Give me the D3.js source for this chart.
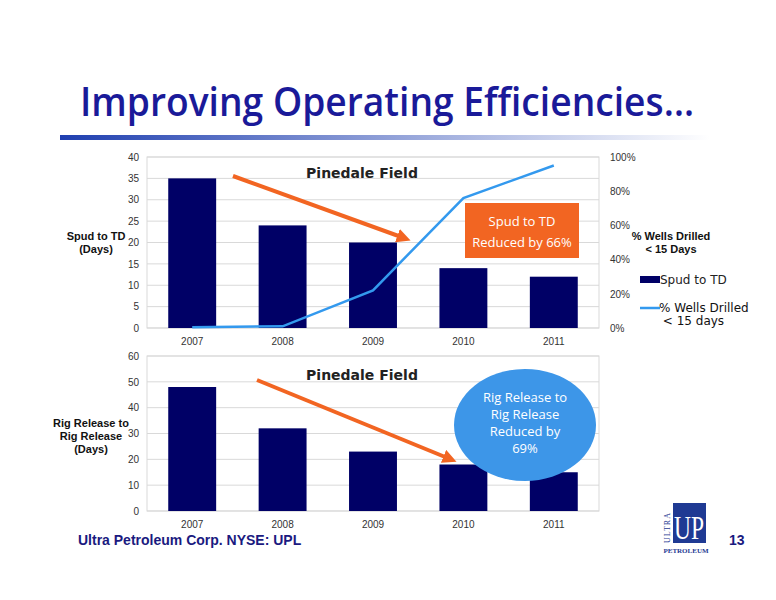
<!DOCTYPE html><html><head><meta charset="utf-8"><script src="https://cdn.jsdelivr.net/npm/d3@7"></script>
<style>body{margin:0;background:#fff}svg{font-family:Verdana,"DejaVu Sans",sans-serif}</style></head><body>
<svg id="c" width="776" height="600"></svg>
<script>
const years=["2007","2008","2009","2010","2011"];
const spudDays=[35,24,20,14,12];
const pctUnder15=[0.005,0.01,0.22,0.76,0.95];
const rigDays=[48,32,23,18,15];
const topTicks=[0,5,10,15,20,25,30,35,40];
const pctTicks=[0,0.2,0.4,0.6,0.8,1];
const botTicks=[0,10,20,30,40,50,60];
const navy="#000066",grid="#d9d9d9",lineBlue="#3399ee",orange="#f26522";
const svg=d3.select("#c");
const defs=svg.append("defs");
const g=defs.append("linearGradient").attr("id","gr");
g.append("stop").attr("offset","0").attr("stop-color","#1f3fb0");
g.append("stop").attr("offset","1").attr("stop-color","#fff");
svg.append("text").attr("x",80).attr("y",116).attr("font-family","'Open Sans',sans-serif").attr("font-weight","600").attr("font-size",40).attr("fill","#1a1a99").attr("textLength",614).attr("lengthAdjust","spacingAndGlyphs").text("Improving Operating Efficiencies…");
svg.append("rect").attr("x",60).attr("y",135).attr("width",650).attr("height",5).attr("fill","url(#gr)");
const x=d3.scaleBand().domain(years).range([147,599]).paddingInner(0.47).paddingOuter(0.235);
function chart(y0,y1,max,ticks,vals,title,titleY){
 const y=d3.scaleLinear().domain([0,max]).range([y1,y0]);
 svg.append("g").selectAll("line").data(ticks).join("line").attr("x1",147).attr("x2",599).attr("y1",d=>y(d)).attr("y2",d=>y(d)).attr("stroke",grid);
 svg.append("rect").attr("x",147).attr("y",y0).attr("width",452).attr("height",y1-y0).attr("fill","none").attr("stroke",grid);
 svg.append("g").selectAll("rect").data(vals).join("rect").attr("x",(d,i)=>x(years[i])).attr("width",x.bandwidth()).attr("y",d=>y(d)).attr("height",d=>y1-y(d)).attr("fill",navy);
 const ax=svg.append("g").attr("transform","translate(147,0)").call(d3.axisLeft(y).tickValues(ticks).tickSize(0).tickPadding(8));
 ax.select(".domain").remove();ax.selectAll("text").attr("font-size",10).attr("fill","#333");
 const bx=svg.append("g").attr("transform",`translate(0,${y1})`).call(d3.axisBottom(x).tickSize(0).tickPadding(10));
 bx.select(".domain").remove();bx.selectAll("text").attr("font-size",10).attr("fill","#333");
 svg.append("text").attr("x",362).attr("y",titleY).attr("text-anchor","middle").attr("font-size",14).attr("font-weight","bold").attr("fill","#222").text(title);
 return y;
}
chart(157,328,40,topTicks,spudDays,"Pinedale Field",178);
const yp=d3.scaleLinear().domain([0,1]).range([328,157]);
const ra=svg.append("g").attr("transform","translate(606,0)").call(d3.axisRight(yp).tickValues(pctTicks).tickFormat(d3.format(".0%")).tickSize(0).tickPadding(4));
ra.select(".domain").remove();ra.selectAll("text").attr("font-size",10).attr("fill","#333");
svg.append("path").datum(pctUnder15).attr("fill","none").attr("stroke",lineBlue).attr("stroke-width",2.5)
 .attr("d",d3.line().x((d,i)=>x(years[i])+x.bandwidth()/2).y(d=>yp(d)));
chart(356,511,60,botTicks,rigDays,"Pinedale Field",380);
function lbl(lines,xx,yy,anchor,fs,bold,fam){const t=svg.append("text").attr("font-size",fs).attr("font-weight",bold?"bold":null).attr("text-anchor",anchor).attr("fill","#111");
 if(fam)t.attr("font-family",fam);
 lines.forEach((l,i)=>t.append("tspan").attr("x",xx).attr("y",yy+i*13).text(l));}
const narrow="'Liberation Sans Narrow','Liberation Sans',Arial,sans-serif";
lbl(["Spud to TD","(Days)"],96,240,"middle",11,true,narrow);
lbl(["Rig Release to","Rig Release","(Days)"],91,427,"middle",11,true,narrow);
lbl(["% Wells Drilled","< 15 Days"],671,240,"middle",11,true,narrow);
svg.append("rect").attr("x",640).attr("y",276).attr("width",20).attr("height",7).attr("fill",navy);
svg.append("text").attr("x",660).attr("y",284).attr("font-size",12).attr("fill","#222").text("Spud to TD");
svg.append("line").attr("x1",640).attr("x2",660).attr("y1",308).attr("y2",308).attr("stroke",lineBlue).attr("stroke-width",2.5);
lbl(["% Wells Drilled","  < 15 days"],659,312,"start",12,false);
const mk=defs.append("marker").attr("id","ah").attr("viewBox","0 0 10 10").attr("refX",5).attr("refY",5).attr("markerWidth",3.5).attr("markerHeight",3.5).attr("orient","auto");
mk.append("path").attr("d","M0,0L10,5L0,10z").attr("fill",orange);
svg.append("line").attr("x1",233).attr("y1",176).attr("x2",404).attr("y2",238).attr("stroke",orange).attr("stroke-width",4).attr("marker-end","url(#ah)");
svg.append("line").attr("x1",257).attr("y1",380).attr("x2",450).attr("y2",459).attr("stroke",orange).attr("stroke-width",4).attr("marker-end","url(#ah)");
svg.append("rect").attr("x",465).attr("y",203).attr("width",114).attr("height",55).attr("fill",orange);
const ot=svg.append("text").attr("text-anchor","middle").attr("fill","#fff").attr("font-size",13).attr("font-family","'Open Sans',sans-serif");
ot.append("tspan").attr("x",522).attr("y",226).text("Spud to TD");ot.append("tspan").attr("x",522).attr("y",247).text("Reduced by  66%");
svg.append("ellipse").attr("cx",525).attr("cy",425).attr("rx",71).attr("ry",56).attr("fill","#3d96e8");
const et=svg.append("text").attr("text-anchor","middle").attr("fill","#fff").attr("font-size",13).attr("font-family","'Open Sans',sans-serif");
["Rig Release to","Rig Release","Reduced by","69%"].forEach((l,i)=>et.append("tspan").attr("x",525).attr("y",402+i*17).text(l));
svg.append("text").attr("x",78).attr("y",545).attr("font-family","'Liberation Sans',Arial,sans-serif").attr("font-weight","bold").attr("font-size",14).attr("fill","#1a1a80").text("Ultra Petroleum Corp. NYSE: UPL");
svg.append("text").attr("x",729).attr("y",545).attr("font-family","'Liberation Sans',Arial,sans-serif").attr("font-weight","bold").attr("font-size",14).attr("fill","#1a1a80").text("13");
svg.append("rect").attr("x",673).attr("y",503).attr("width",33).attr("height",40).attr("fill","#1f3a93");
svg.append("text").attr("x",689).attr("y",539).attr("text-anchor","middle").attr("font-family","'Liberation Serif',serif").attr("font-size",34).attr("fill","#fff").attr("textLength",30).attr("lengthAdjust","spacingAndGlyphs").text("UP");
svg.append("text").attr("transform","translate(670,543) rotate(-90)").attr("font-family","'Liberation Serif',serif").attr("font-size",8).attr("fill","#1f3a93").attr("letter-spacing",1).text("ULTRA");
svg.append("text").attr("x",686).attr("y",553).attr("text-anchor","middle").attr("font-family","'Liberation Serif',serif").attr("font-weight","bold").attr("font-size",7).attr("fill","#1f3a93").text("PETROLEUM");
</script></body></html>
